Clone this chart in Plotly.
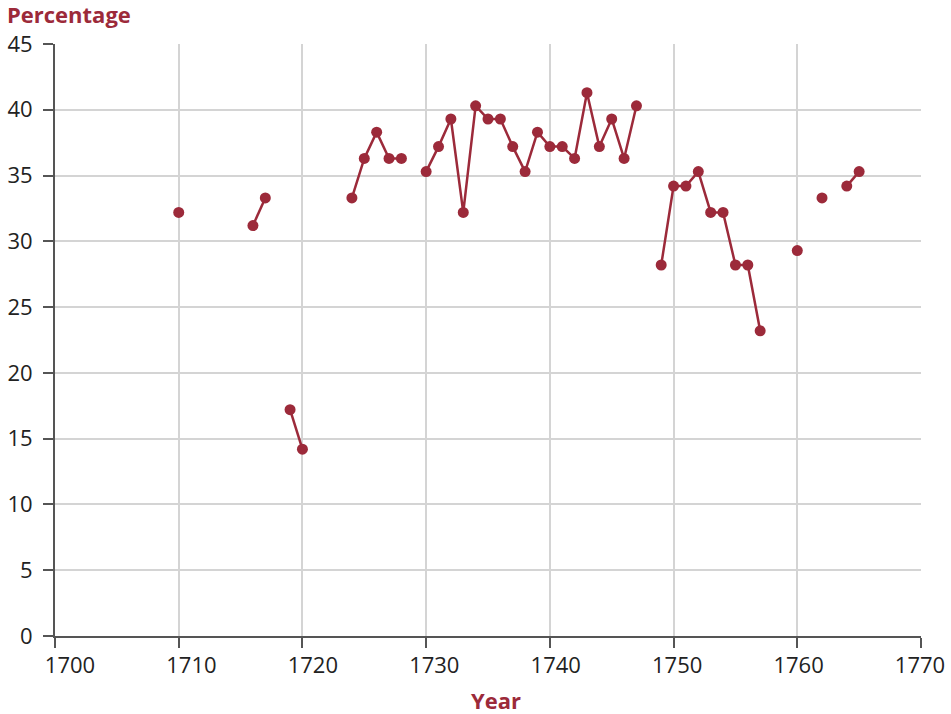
import plotly.graph_objects as go

years = list(range(1710, 1766))
values = [
    32.2, None, None, None, None, None,          # 1710-1715
    31.2, 33.3, None, 17.2, 14.2,                # 1716-1720
    None, None, None,                            # 1721-1723
    33.3, 36.3, 38.3, 36.3, 36.3, None,          # 1724-1729
    35.3, 37.2, 39.3, 32.2, 40.3, 39.3, 39.3, 37.2, 35.3, 38.3,  # 1730-1739
    37.2, 37.2, 36.3, 41.3, 37.2, 39.3, 36.3, 40.3, None, 28.2,  # 1740-1749
    34.2, 34.2, 35.3, 32.2, 32.2, 28.2, 28.2, 23.2, None, None,  # 1750-1759
    29.3, None, 33.3, None, 34.2, 35.3,          # 1760-1765
]
x_ticks = [1700, 1710, 1720, 1730, 1740, 1750, 1760, 1770]
y_ticks = [0, 5, 10, 15, 20, 25, 30, 35, 40, 45]

RED = "#9c2a3a"
FONT = "Open Sans"
TXT = "#222222"

W, H = 951, 714
L, R, T, B = 55, 30, 44, 78
pw, ph = W - L - R, H - T - B

# In the reference the year labels sit on a slightly compressed scale:
# label 1700 centred 15 px right of its tick, label 1770 centred on its tick.
lab_px_first, lab_px_last = 70 - L, 920 - L
lab_scale = (lab_px_last - lab_px_first) / (x_ticks[-1] - x_ticks[0])
lab_lo = x_ticks[0] - lab_px_first / lab_scale
lab_hi = lab_lo + pw / lab_scale

fig = go.Figure()
fig.add_trace(go.Scatter(
    x=years, y=values, mode="lines+markers", connectgaps=False,
    line=dict(color=RED, width=2.5),
    marker=dict(color=RED, size=11),
    showlegend=False, hoverinfo="x+y",
))
# invisible carrier trace for the label axis
fig.add_trace(go.Scatter(
    x=[x_ticks[0]], y=[None], xaxis="x2", yaxis="y",
    mode="markers", showlegend=False, hoverinfo="skip",
))

fig.update_layout(
    width=W, height=H, autosize=False,
    margin=dict(l=L, r=R, t=T, b=B, autoexpand=False),
    plot_bgcolor="white", paper_bgcolor="white",
    font=dict(family=FONT, size=22, color=TXT),
    xaxis=dict(
        range=[1700, 1770], tickvals=x_ticks, showticklabels=False,
        showgrid=True, gridcolor="#d4d4d4", gridwidth=1.5,
        showline=True, linecolor="#555555", linewidth=2,
        ticks="outside", ticklen=10, tickwidth=2, tickcolor="#555555",
        zeroline=False, automargin=False,
    ),
    xaxis2=dict(
        overlaying="x", anchor="y", side="bottom",
        range=[lab_lo, lab_hi], tickvals=x_ticks,
        ticktext=[str(v) for v in x_ticks],
        showgrid=False, showline=False, zeroline=False,
        ticks="outside", ticklen=10, tickcolor="rgba(0,0,0,0)",
        automargin=False,
    ),
    yaxis=dict(
        range=[0, 45], tickvals=y_ticks, ticktext=[str(v) for v in y_ticks],
        showgrid=True, gridcolor="#d4d4d4", gridwidth=1.5,
        showline=True, linecolor="#555555", linewidth=2,
        ticks="outside", ticklen=10, tickwidth=2, tickcolor="#555555",
        ticklabelstandoff=6,
        zeroline=False, automargin=False,
    ),
    annotations=[
        dict(text="<b>Percentage</b>", xref="paper", yref="paper",
             x=-50 / pw, y=1 + 30 / ph, xanchor="left", yanchor="middle",
             showarrow=False, font=dict(family=FONT, size=22, color=RED)),
        dict(text="<b>Year</b>", xref="paper", yref="paper",
             x=(496 - L) / pw, y=-64 / ph, xanchor="center", yanchor="middle",
             showarrow=False, font=dict(family=FONT, size=22, color=RED)),
    ],
)

fig.write_html(
    "out.html",
    config={"displayModeBar": False},
    post_script="document.body.style.margin='0';document.body.style.overflow='hidden';",
)
